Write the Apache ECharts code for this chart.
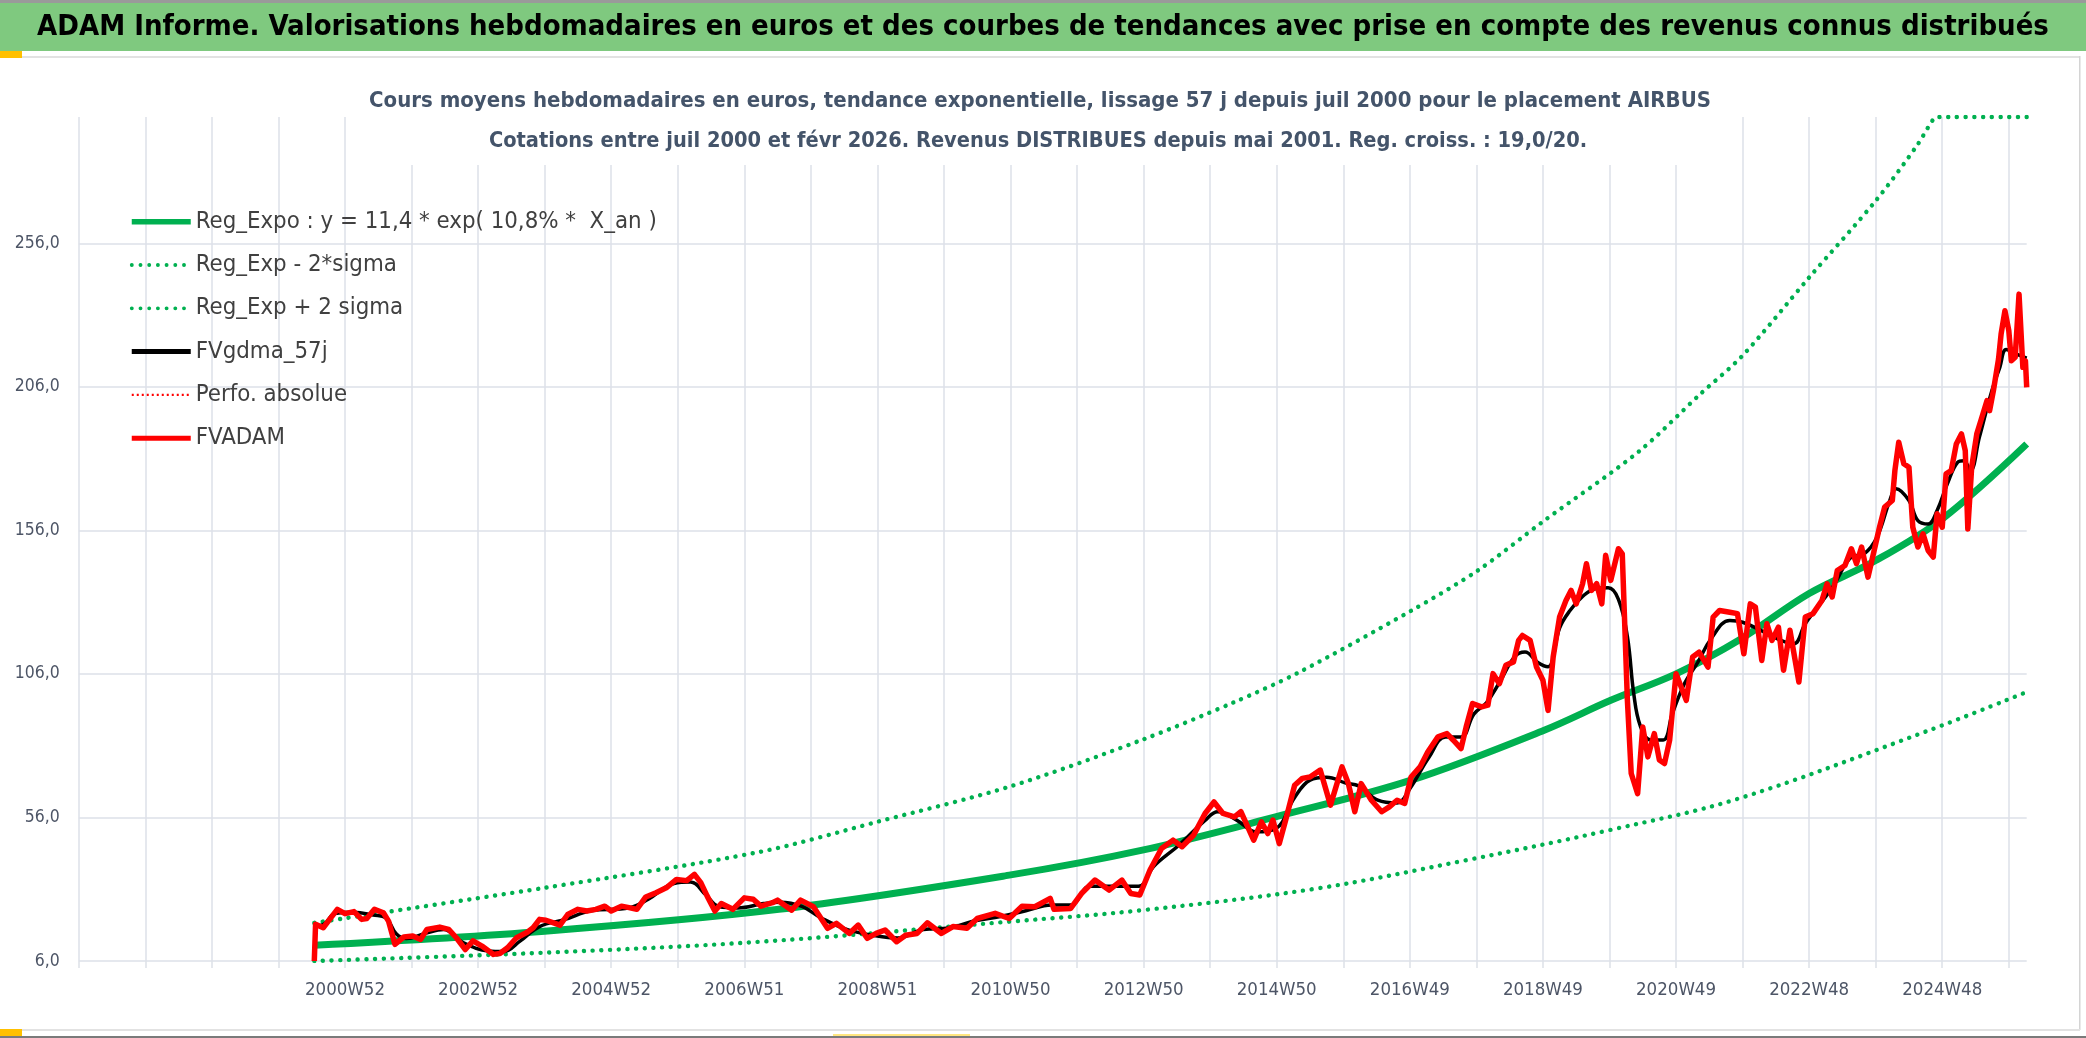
<!DOCTYPE html>
<html><head><meta charset="utf-8">
<script src="https://cdn.jsdelivr.net/npm/echarts@6/dist/echarts.min.js"></script>
<style>html,body{margin:0;padding:0;background:#fff;}#c{width:2086px;height:1038px;}</style>
</head><body><div id="c"></div>
<script>
// ---------- DATA ----------
const weekCount = 1523; // weekly categories on the x axis (index 0..1522)
const tickLabels = ['2000W52','2002W52','2004W52','2006W51','2008W51','2010W50','2012W50','2014W50','2016W49','2018W49','2020W49','2022W48','2024W48'];
const firstLabelWeek = 208, labelStep = 104, gridStep = 52;
const yMin = 6, yMax = 300, yStep = 50;

const mainTitle = 'ADAM Informe. Valorisations hebdomadaires en euros et des courbes de tendances avec prise en compte des revenus connus distribués';
const subTitle1 = 'Cours moyens hebdomadaires en euros, tendance exponentielle, lissage 57 j depuis juil 2000 pour le placement AIRBUS';
const subTitle2 = 'Cotations entre juil 2000 et févr 2026. Revenus DISTRIBUES depuis mai 2001. Reg. croiss. : 19,0/20.';

const seriesNames = ['Reg_Expo : y = 11,4 * exp( 10,8% *  X_an )','Reg_Exp - 2*sigma','Reg_Exp + 2 sigma','FVgdma_57j','Perfo. absolue','FVADAM'];

const regExpo = [[184,11.5],[364,16.4],[547,24],[727,35.9],[831,44.6],[935,56.2],[1041,69],[1145,86.4],[1197,96.8],[1248,106],[1297,117.7],[1352,134],[1404,145.5],[1456,160],[1522,186.1]];
const regMinus = [[184,6],[364,8.9],[532,12.7],[727,19.7],[831,23.7],[968,31.3],[1084,41.1],[1196,51.6],[1297,62.6],[1446,86.4],[1522,99.7]];
const regPlus = [[184,19.3],[364,31.5],[532,44],[624,54.5],[727,66.7],[830,82.9],[903,96.2],[954,106.7],[1041,128],[1093,142],[1145,159.4],[1219,183.5],[1267,203.5],[1300,216.9],[1352,244.1],[1404,270.8],[1436,289.9],[1449,299.2],[1452,300],[1522,300]];

const fvgdma = [[184,18],[192,19],[200,22.5],[215,23],[230,22],[240,21],[248,15.5],[256,13.8],[270,15.5],[285,17],[300,12.5],[320,9.5],[332,9.3],[345,13],[360,18],[380,20.5],[400,23.5],[430,24.5],[445,27.5],[465,33],[478,33.5],[490,29],[500,25],[515,24.5],[535,26],[548,26.5],[565,25],[580,21],[600,17],[620,15],[640,14],[660,17],[680,17.5],[700,20],[720,21.5],[740,23.5],[760,25.5],[775,25.5],[790,32],[810,32],[828,32],[840,39],[860,46.5],[880,55],[890,58],[905,55],[920,51],[935,52],[950,63],[962,69],[975,70],[990,68],[1000,67],[1015,62],[1030,61],[1040,66],[1055,77],[1068,84],[1080,84],[1090,92],[1100,96],[1110,103],[1122,112],[1130,113.6],[1140,110],[1148,108.5],[1157,122],[1165,128],[1175,133],[1185,135.7],[1195,136],[1203,132],[1210,119],[1215,99],[1220,88],[1228,83],[1238,83],[1245,92],[1255,103],[1265,110],[1275,118],[1290,124.6],[1300,124],[1315,121],[1330,117.7],[1340,116.5],[1349,123.5],[1370,136],[1385,146.7],[1395,147.8],[1405,153.6],[1415,166.4],[1420,170.5],[1430,166.4],[1437,159.4],[1445,158.2],[1452,162.9],[1460,172.2],[1468,179.7],[1473,180.3],[1478,176.8],[1485,188.4],[1495,205],[1501,212.8],[1506,219],[1514,217.4],[1522,216]];

const perfoAbsolue = [];

const fvadam = [[184,6],[185,18.8],[191,17.6],[196,20.5],[202,24],[208,22.5],[215,23.2],[221,20.5],[225,20.8],[231,24],[238,22.8],[242,19.9],[247,11.8],[254,14.4],[261,14.7],[267,13.5],[272,17],[282,17.8],[289,17],[295,14.1],[302,10],[308,13],[315,11.2],[324,8.3],[329,8.6],[335,10.6],[342,14.1],[350,15.9],[355,17.6],[360,20.5],[365,20.2],[371,19.3],[376,18.5],[382,22.2],[390,24],[397,23.4],[404,24],[411,25.1],[416,23.4],[424,25.1],[430,24.6],[436,24],[443,28.3],[451,29.8],[459,31.5],[467,34.4],[475,34],[481,36.2],[486,33.3],[491,28.6],[497,23.4],[502,26],[511,24],[520,28],[527,27.5],[533,25.1],[542,26.3],
[546,27.2],[557,23.7],[564,27.2],[574,24.9],[580,20.8],[585,17.4],[592,19.1],[602,15.6],[609,18.5],[616,13.9],[623,15.6],[630,16.8],[639,12.7],[646,15],[655,15.6],[663,19.3],[674,15.6],[683,18],[694,17.4],[702,20.8],[716,22.6],[727,20.8],[737,25.1],[747,24.9],[759,27.8],[762,24],[775,24.3],[784,29.8],[794,34.2],[805,30.7],[815,34.2],[822,29.5],[829,29],[837,37.7],[846,45.2],[855,48.1],[862,45.8],[871,49.8],[880,57.4],[887,61.4],[894,57.4],[903,56.2],[908,58],[918,48.1],[924,54.5],[929,50.4],[933,55.1],[938,46.9],[943,55.1],[950,67.2],[956,69.6],
[962,70.1],[970,72.5],[978,60.3],[987,73.6],[992,67.8],[997,58],[1002,67.8],[1010,62],[1018,58],[1024,59.7],[1030,62],[1036,60.9],[1041,70.1],[1048,73.6],[1054,78.8],[1062,84.1],[1069,85.2],[1074,82.9],[1080,80],[1084,87.5],[1089,95.7],[1096,94.5],[1101,95.1],[1105,106.1],[1110,102.6],[1115,109],[1121,110.2],[1125,117.7],[1128,119.4],[1134,117.7],[1139,108.4],[1144,103.8],[1148,93.3],[1152,111.9],[1157,125.8],[1162,131.6],[1166,135.1],[1170,130.4],[1175,137.4],[1178,144.4],[1182,135.1],[1186,137.4],[1190,130.4],[1193,147.3],[1197,138.6],[1203,149.6],[1206,147.8],[1210,96.8],[1213,71.3],[1218,64.3],[1222,87.5],[1226,77.1],[1231,85.2],[1235,76],[1239,74.8],[1243,82.9],[1248,106.1],[1256,96.8],[1261,111.9],[1266,113.6],[1273,108.4],[1277,125.8],[1282,128.1],[1290,127.5],[1296,127],
[1301,113],[1306,130.4],[1310,129.3],[1315,110.7],[1319,123.5],[1323,117.7],[1328,122.3],[1332,107.3],[1337,121.2],[1344,103.2],[1349,125.8],[1355,127],[1362,131.6],[1366,137.4],[1370,132.8],[1374,142],[1380,143.8],[1385,149.6],[1389,144.4],[1393,150.2],[1398,139.7],[1404,151.3],[1407,157.1],[1411,164.1],[1417,166.4],[1419,176.8],[1422,186.7],[1426,179.2],[1430,178],[1433,157.1],[1437,150.2],[1441,154.8],[1445,149],[1449,146.7],[1452,161.8],[1456,157.1],[1459,175.7],[1463,176.8],[1467,186.1],[1471,189.6],[1474,183.8],[1476,156.5],[1479,178],[1483,189.6],[1487,195.4],[1491,201.2],
[1493,197.7],[1496,204.7],[1500,215.7],[1502,224.4],[1505,232.5],[1508,225.6],[1510,215.1],[1513,216.3],[1516,238.3],[1519,212.8],[1521,215.1],[1522,205.8]];

// ---------- STYLE ----------
const FONT = "'Liberation Sans Narrow','DejaVu Sans Condensed','Noto Sans',sans-serif";
const mctx = document.createElement('canvas').getContext('2d');
function fit(text, weight, target) {
  mctx.font = weight + ' 100px ' + FONT;
  return +(100 * target / mctx.measureText(text).width).toFixed(2);
}
const titleSize = fit(mainTitle, 'bold', 2012);
const sub1Size = fit(subTitle1, 'bold', 1342);
const sub2Size = fit(subTitle2, 'bold', 1098);
const legendSize = fit(seriesNames[0], 'normal', 461);
const yLabSize = fit('106,0', 'normal', 45);
const xLabSize = fit('2000W52', 'normal', 80);

const GREEN = '#00B050', GRID = '#dde1e8', AXISTXT = '#4d5566';
const categories = Array.from({length: weekCount}, (_, i) => i);
const dotted = [0.1, 8.6];
const hiddenSymbol = {opacity: 0, color: 'rgba(0,0,0,0)', borderWidth: 0};

const chart = echarts.init(document.getElementById('c'), null, {renderer: 'canvas'});
chart.setOption({
  animation: false,
  backgroundColor: '#ffffff',
  grid: {left: 78.8, right: 59.3, top: 117, bottom: 77, containLabel: false},
  xAxis: {
    type: 'category', data: categories, boundaryGap: false,
    axisLine: {show: false},
    axisTick: {show: true, length: 7, interval: (i) => i % gridStep === 0, lineStyle: {color: GRID, width: 1.5}},
    splitLine: {show: true, interval: (i) => i % gridStep === 0, lineStyle: {color: GRID, width: 1.5}},
    axisLabel: {
      interval: (i) => i >= firstLabelWeek && (i - firstLabelWeek) % labelStep === 0,
      formatter: (v, i) => { const k = (i - firstLabelWeek) / labelStep; return (k >= 0 && Number.isInteger(k) && tickLabels[k]) ? tickLabels[k] : ''; },
      color: AXISTXT, fontFamily: FONT, fontSize: xLabSize, margin: 20
    }
  },
  yAxis: {
    type: 'value', min: yMin, max: yMax, interval: yStep,
    axisLine: {show: false}, axisTick: {show: false},
    splitLine: {show: true, showMaxLine: false, lineStyle: {color: GRID, width: 1.5}},
    axisLabel: {showMaxLabel: false, formatter: (v) => v.toFixed(1).replace('.', ','), color: AXISTXT, fontFamily: FONT, fontSize: yLabSize, margin: 19}
  },
  legend: {
    orient: 'vertical', left: 129, top: 206.7, padding: 0,
    itemWidth: 59, itemHeight: 14, itemGap: 13.3,
    itemStyle: hiddenSymbol,
    textStyle: {fontFamily: FONT, fontSize: legendSize, color: '#404040', lineHeight: 30},
    data: [
      {name: seriesNames[0], itemStyle: hiddenSymbol, lineStyle: {width: 5.5}},
      {name: seriesNames[1], itemStyle: hiddenSymbol, lineStyle: {width: 3.8}},
      {name: seriesNames[2], itemStyle: hiddenSymbol, lineStyle: {width: 3.8}},
      {name: seriesNames[3], itemStyle: hiddenSymbol, lineStyle: {width: 5}},
      {name: seriesNames[4], itemStyle: hiddenSymbol, lineStyle: {width: 2.2}},
      {name: seriesNames[5], itemStyle: hiddenSymbol, lineStyle: {width: 5}}
    ]
  },
  graphic: [
    {type: 'rect', z: 1, shape: {x: 0, y: 0, width: 2086, height: 3}, style: {fill: '#9a9a9a'}},
    {type: 'rect', z: 1, shape: {x: 0, y: 3, width: 2086, height: 48}, style: {fill: '#7fc97f'}},
    {type: 'text', z: 2, x: 1043, y: 27, style: {text: mainTitle, fontFamily: FONT, fontWeight: 'bold', fontSize: titleSize, fill: '#000', align: 'center', verticalAlign: 'middle'}},
    {type: 'rect', z: 1, shape: {x: 22, y: 56, width: 2058, height: 2}, style: {fill: '#e2e2e2'}},
    {type: 'rect', z: 1, shape: {x: 0, y: 51, width: 22, height: 7}, style: {fill: '#ffc000'}},
    {type: 'rect', z: 1, shape: {x: 347, y: 112, width: 1392, height: 53}, style: {fill: '#ffffff'}},
    {type: 'text', z: 2, x: 1040, y: 101, style: {text: subTitle1, fontFamily: FONT, fontWeight: 'bold', fontSize: sub1Size, fill: '#44546A', align: 'center', verticalAlign: 'middle'}},
    {type: 'text', z: 2, x: 1038, y: 141, style: {text: subTitle2, fontFamily: FONT, fontWeight: 'bold', fontSize: sub2Size, fill: '#44546A', align: 'center', verticalAlign: 'middle'}},
    {type: 'rect', z: 1, shape: {x: 2079, y: 56, width: 1.5, height: 974}, style: {fill: '#d4d4d4'}},
    {type: 'rect', z: 1, shape: {x: 22, y: 1029, width: 2058, height: 2}, style: {fill: '#e2e2e2'}},
    {type: 'rect', z: 1, shape: {x: 0, y: 1029, width: 22, height: 7}, style: {fill: '#ffc000'}},
    {type: 'rect', z: 1, shape: {x: 833, y: 1034, width: 137, height: 2}, style: {fill: '#ffe680'}},
    {type: 'rect', z: 1, shape: {x: 0, y: 1036, width: 2086, height: 2}, style: {fill: '#7a7a7a'}}
  ],
  series: [
    {name: seriesNames[0], type: 'line', data: regExpo, symbol: 'none', smooth: 0.35, z: 2,
     lineStyle: {color: GREEN, width: 7}, itemStyle: {color: GREEN}},
    {name: seriesNames[1], type: 'line', data: regMinus, symbol: 'none', smooth: 0.35, z: 2,
     lineStyle: {color: GREEN, width: 4.4, type: dotted, cap: 'round'}, itemStyle: {color: GREEN}},
    {name: seriesNames[2], type: 'line', data: regPlus, symbol: 'none', smooth: 0.3, z: 2,
     lineStyle: {color: GREEN, width: 4.4, type: dotted, cap: 'round'}, itemStyle: {color: GREEN}},
    {name: seriesNames[3], type: 'line', data: fvgdma, symbol: 'none', smooth: 0.4, z: 3,
     lineStyle: {color: '#000000', width: 3.5}, itemStyle: {color: '#000000'}},
    {name: seriesNames[4], type: 'line', data: perfoAbsolue, symbol: 'none', z: 3,
     lineStyle: {color: '#ff0000', width: 2, type: [2, 3]}, itemStyle: {color: '#ff0000'}},
    {name: seriesNames[5], type: 'line', data: fvadam, symbol: 'none', z: 4,
     lineStyle: {color: '#ff0000', width: 5.5, join: 'round'}, itemStyle: {color: '#ff0000'}}
  ]
});
</script></body></html>
